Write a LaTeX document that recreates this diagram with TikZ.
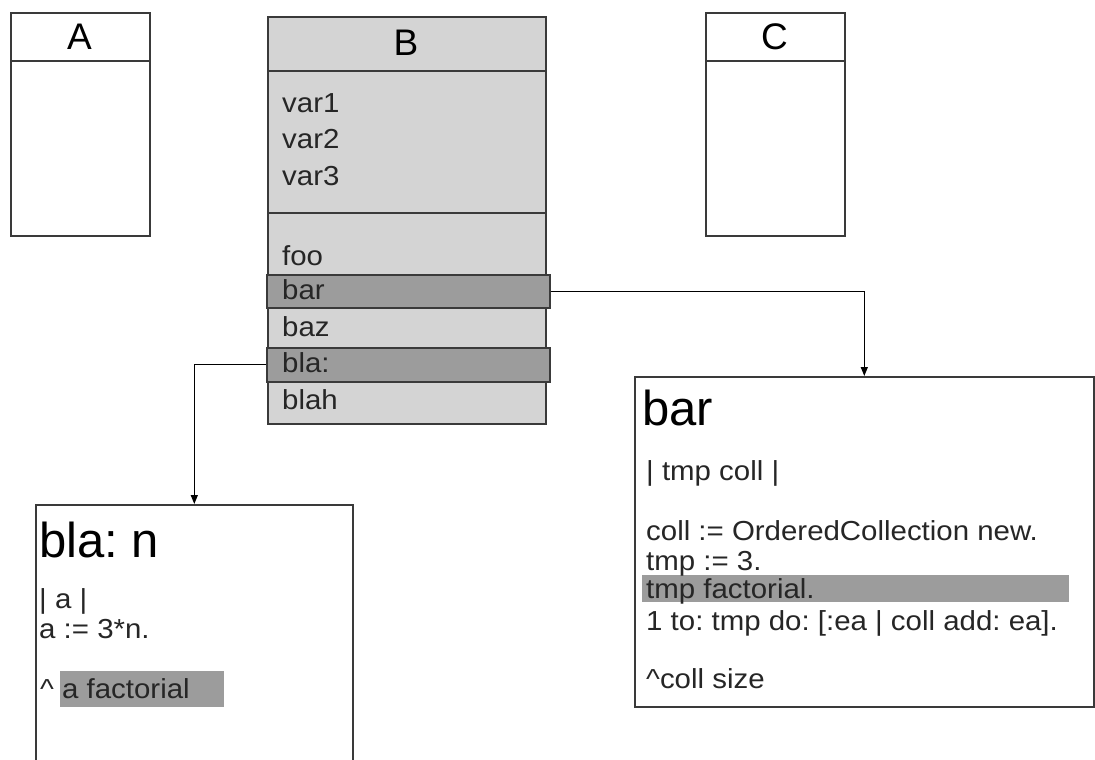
\documentclass[tikz,border=0pt]{standalone}
\usepackage{fontspec}
\setmainfont{Liberation Sans}
\newfontfamily\widefont[FakeStretch=1.07]{Liberation Sans}
\usetikzlibrary{arrows.meta}
\frenchspacing
\definecolor{lineg}{HTML}{3A3A3A}
\definecolor{boxfill}{HTML}{D4D4D4}
\definecolor{selfill}{HTML}{9C9C9C}
\tikzset{
  frame/.style={draw=lineg, line width=1.6pt, anchor=north west, inner sep=0pt},
  sel/.style={draw=lineg, fill=selfill, line width=1.6pt, anchor=north west, inner sep=0pt},
  hl/.style={fill=selfill, anchor=north west, inner sep=0pt},
  txt/.style={anchor=base west, inner sep=0pt, font=\frenchspacing\widefont\fontsize{27.5}{30}\selectfont, text=black!85},
  ttl/.style={anchor=base, inner sep=0pt, font=\fontsize{37}{40}\selectfont},
  big/.style={anchor=base west, inner sep=0pt, font=\frenchspacing\fontsize{49}{54}\selectfont},
  arr/.style={draw=black, line width=1.3pt, -{Triangle[width=7pt,length=9pt]}}
}
\begin{document}
\begin{tikzpicture}[x=1pt,y=-1pt]
\useasboundingbox (0,0) rectangle (1095,760);
\fill[white] (0,0) rectangle (1095,760);
% Class A
\node[frame, minimum width=139pt, minimum height=223pt] (A) at (10,12) {};
\draw[lineg, line width=1.6pt] (10,61) -- (149,61);
\node[ttl] (Atitle) at (79.5,49) {A};
% Class C
\node[frame, minimum width=139pt, minimum height=223pt] (C) at (705,12) {};
\draw[lineg, line width=1.6pt] (705,61) -- (844,61);
\node[ttl] (Ctitle) at (774.5,49) {C};
% Class B
\node[frame, fill=boxfill, minimum width=278pt, minimum height=407pt] (B) at (267,16) {};
\draw[lineg, line width=1.6pt] (267,71) -- (545,71);
\draw[lineg, line width=1.6pt] (267,213) -- (545,213);
\node[ttl] (Btitle) at (406,56) {B};
\node[txt] (v1) at (282,112) {var1};
\node[txt] (v2) at (282,148) {var2};
\node[txt] (v3) at (282,185) {var3};
\node[sel, minimum width=283pt, minimum height=33pt] (barsel) at (266,274) {};
\node[sel, minimum width=283pt, minimum height=34pt] (blasel) at (266,347) {};
\node[txt] (m1) at (282,265) {foo};
\node[txt] (m2) at (282,299) {bar};
\node[txt] (m3) at (282,336) {baz};
\node[txt] (m4) at (282,372) {bla:};
\node[txt] (m5) at (282,409) {blah};
% Method bla:
\node[frame, fill=white, minimum width=317pt, minimum height=262pt] (blabox) at (35,504) {};
\node[hl, minimum width=164pt, minimum height=36pt] (blahl) at (60,671) {};
\node[big] (blatitle) at (39,557) {bla: n};
\node[txt] (b1) at (39,608) {| a |};
\node[txt] (b2) at (39,638) {a := 3*n.};
\node[txt] (b3) at (40,698) {\^{} a factorial};
% Method bar
\node[frame, fill=white, minimum width=459pt, minimum height=330pt] (barbox) at (634,376) {};
\node[hl, minimum width=427pt, minimum height=27pt] (barhl) at (642,575) {};
\node[big] (bartitle) at (642,425) {bar};
\node[txt] (r1) at (646,480) {| tmp coll |};
\node[txt] (r2) at (646,540) {coll := OrderedCollection new.};
\node[txt] (r3) at (646,570) {tmp := 3.};
\node[txt] (r4) at (646,598) {tmp factorial.};
\node[txt] (r5) at (646,630) {1 to: tmp do: [:ea | coll add: ea].};
\node[txt] (r6) at (646,688) {\^{}coll size};
% Connectors
\draw[arr] (barsel.east) -| (barbox.north);
\draw[arr] (blasel.west) -| (blabox.north);
\end{tikzpicture}
\end{document}
